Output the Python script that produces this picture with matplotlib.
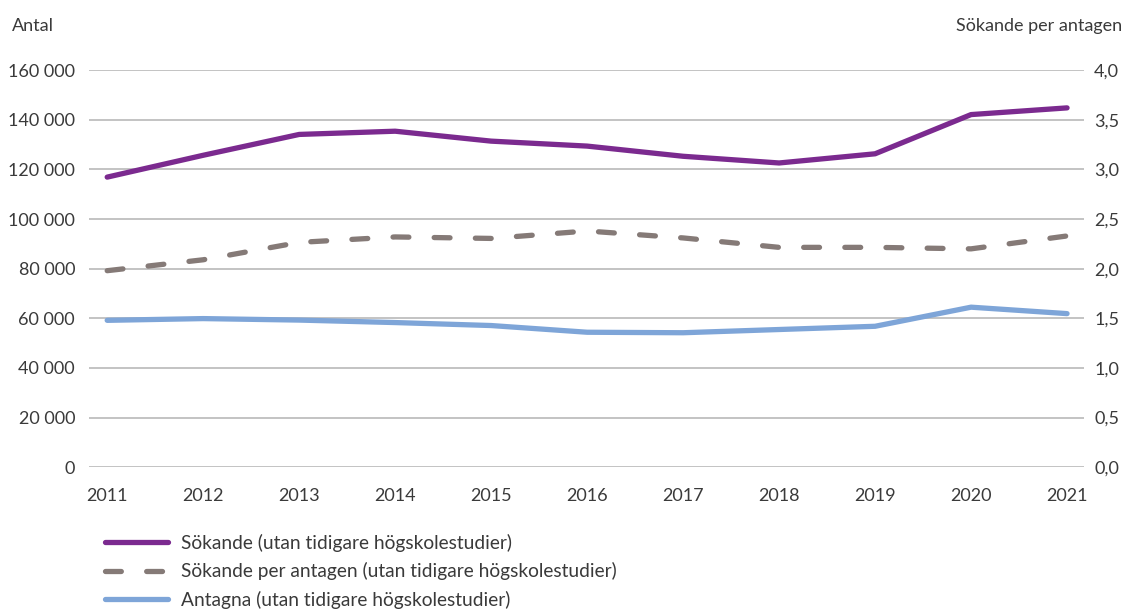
import matplotlib
matplotlib.use("Agg")
import matplotlib.pyplot as plt
from matplotlib.ticker import FuncFormatter
from matplotlib.lines import Line2D

plt.rcParams['font.family'] = ['Lato', 'DejaVu Sans']

# data
years = [2011, 2012, 2013, 2014, 2015, 2016, 2017, 2018, 2019, 2020, 2021]
sokande = [116900, 125700, 134100, 135400, 131400, 129400, 125300, 122600, 126300, 142100, 144800]
sokande_per_antagen = [1.98, 2.09, 2.265, 2.32, 2.305, 2.38, 2.31, 2.215, 2.215, 2.20, 2.33]
antagna = [59200, 59900, 59300, 58300, 57100, 54400, 54200, 55500, 56800, 64500, 61900]

left_ticks = [0, 20000, 40000, 60000, 80000, 100000, 120000, 140000, 160000]
right_ticks = [0, 0.5, 1.0, 1.5, 2.0, 2.5, 3.0, 3.5, 4.0]

labels = ["Sökande (utan tidigare högskolestudier)",
          "Sökande per antagen (utan tidigare högskolestudier)",
          "Antagna (utan tidigare högskolestudier)"]

purple = "#7b2a8f"
grey = "#857a77"
blue = "#7ea5d8"
text_c = "#3a3a3a"
lw = 3.8

fig = plt.figure(figsize=(11.26, 6.10), dpi=100)
ax = fig.add_axes([0.079, 0.234, 0.884, 0.651])
ax2 = ax.twinx()

ax.set_ylim(0, 160000)
ax2.set_ylim(0, 4.0)
ax.set_xlim(2010.81, 2021.18)

ax.set_yticks(left_ticks)
ax2.set_yticks(right_ticks)
ax.set_xticks(years)
ax.yaxis.set_major_formatter(FuncFormatter(lambda v, p: f"{int(v):,}".replace(",", " ")))
ax2.yaxis.set_major_formatter(FuncFormatter(lambda v, p: f"{v:.1f}".replace(".", ",")))

ax.grid(axis='y', color="#b3b3b3", lw=1.1)
ax.set_axisbelow(True)
for a in (ax, ax2):
    for s in a.spines.values():
        s.set_visible(False)
    a.tick_params(length=0, labelsize=13, labelcolor=text_c)
ax.tick_params(axis='y', pad=10)
ax2.tick_params(axis='y', pad=7)
ax.tick_params(axis='x', pad=15)

ax.plot(years, sokande, color=purple, lw=lw, solid_capstyle='round', solid_joinstyle='round', zorder=3)
ax.plot(years, antagna, color=blue, lw=lw, solid_capstyle='round', solid_joinstyle='round', zorder=3)
ax2.plot(years, sokande_per_antagen, color=grey, lw=lw, dashes=(3.0, 4.8),
         dash_capstyle='round', zorder=3)

fig.text(0.011, 0.958, "Antal", fontsize=13, color=text_c, va='center', ha='left')
fig.text(0.997, 0.958, "Sökande per antagen", fontsize=13, color=text_c, va='center', ha='right')

handles = [Line2D([], [], color=purple, lw=lw, solid_capstyle='round'),
           Line2D([], [], color=grey, lw=lw, dashes=(3.0, 4.8), dash_capstyle='round'),
           Line2D([], [], color=blue, lw=lw, solid_capstyle='round')]
leg = fig.legend(handles, labels, loc='upper left', bbox_to_anchor=(0.093, 0.125),
                 frameon=False, fontsize=13.8, handlelength=3.3, handletextpad=0.68,
                 labelspacing=0.55, labelcolor=text_c, borderaxespad=0, borderpad=0)

fig.savefig("out.png", dpi=100)
